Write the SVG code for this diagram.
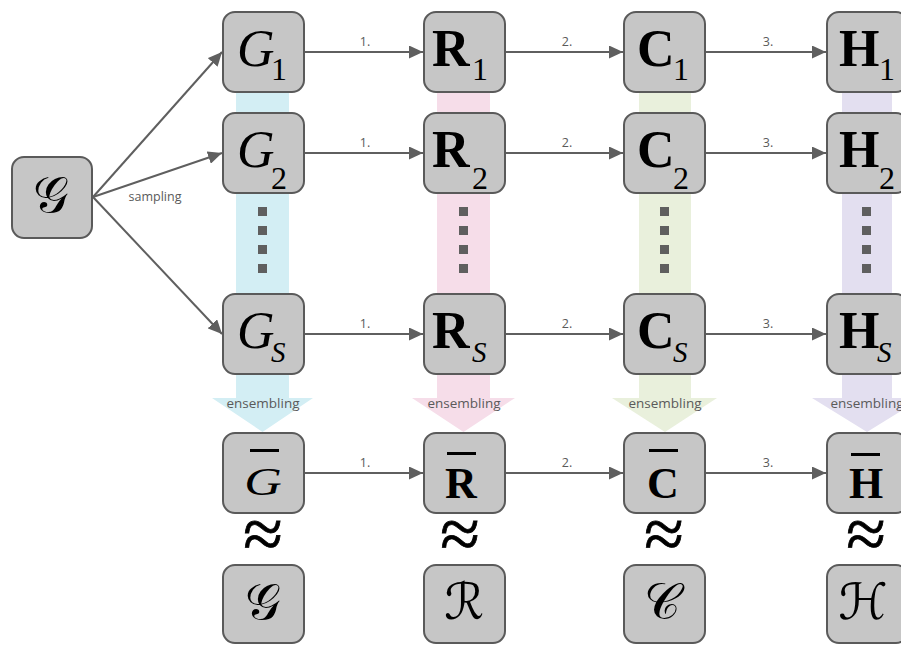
<svg xmlns="http://www.w3.org/2000/svg" width="901" height="645" viewBox="0 0 901 645">
  <defs>
    <marker id="arrow" markerUnits="userSpaceOnUse" markerWidth="15" markerHeight="13" refX="14" refY="6.5" orient="auto">
      <path d="M0,0 L14,6.5 L0,13 z" fill="#5f5f5f"/>
    </marker>
    <style>
      .box { fill: #c6c6c6; stroke: #5a5a5a; stroke-width: 2; }
      .edge { stroke: #5f5f5f; stroke-width: 2; fill: none; marker-end: url(#arrow); }
      .lbl { font-family: "Open Sans", "DejaVu Sans", sans-serif; font-size: 12.5px; fill: #5a5a5a; text-anchor: middle; }
      .ens { font-family: "Open Sans", "DejaVu Sans", sans-serif; font-size: 13.5px; fill: #5a5a5a; text-anchor: middle; }
      .it { font-family: "Liberation Serif", "Times New Roman", serif; font-style: italic; font-size: 52px; fill: #000; }
      .bd { font-family: "Liberation Serif", "Times New Roman", serif; font-weight: bold; font-size: 52px; fill: #000; }
      .sub { font-family: "Liberation Serif", "Times New Roman", serif; font-size: 32px; fill: #000; }
      .subit { font-family: "Liberation Serif", "Times New Roman", serif; font-style: italic; font-size: 29px; fill: #000; }
      .bar-it { font-family: "Liberation Serif", "Times New Roman", serif; font-style: italic; font-size: 40px; fill: #000; }
      .bar-bd { font-family: "Liberation Serif", "Times New Roman", serif; font-weight: bold; font-size: 44px; fill: #000; }
      .ovl { fill: #000; }
      .approx { font-family: "Liberation Serif", "Times New Roman", serif; font-size: 72px; fill: #000; text-anchor: middle; stroke: #000; stroke-width: 0.8; }
      .scr { font-family: "DejaVu Serif", "DejaVu Sans", serif; font-size: 50px; fill: #000; text-anchor: middle; }
      .dot { fill: #5f5f5f; }
    </style>
  </defs>
  <rect width="901" height="645" fill="#fff"/>

  <!-- coloured ensembling bands behind each column -->
  <g id="bands">
    <path d="M236,92 H289 V398 H313 L262.5,432 L212,398 H236 Z" fill="#d3eef4"/>
    <path d="M437,92 H490 V398 H515 L463.5,432 L412,398 H437 Z" fill="#f6dde9"/>
    <path d="M639,92 H691 V398 H717 L665,432 L612,398 H639 Z" fill="#e9f0dc"/>
    <path d="M842,92 H892 V398 H922 L867,432 L812,398 H842 Z" fill="#e3dff0"/>
    <g class="dot">
      <rect x="258" y="207" width="9" height="9"/><rect x="258" y="226" width="9" height="9"/>
      <rect x="258" y="245" width="9" height="9"/><rect x="258" y="264" width="9" height="9"/>
      <rect x="459" y="207" width="9" height="9"/><rect x="459" y="226" width="9" height="9"/>
      <rect x="459" y="245" width="9" height="9"/><rect x="459" y="264" width="9" height="9"/>
      <rect x="660" y="207" width="9" height="9"/><rect x="660" y="226" width="9" height="9"/>
      <rect x="660" y="245" width="9" height="9"/><rect x="660" y="264" width="9" height="9"/>
      <rect x="862" y="207" width="9" height="9"/><rect x="862" y="226" width="9" height="9"/>
      <rect x="862" y="245" width="9" height="9"/><rect x="862" y="264" width="9" height="9"/>
    </g>
    <text class="ens" x="263" y="408">ensembling</text>
    <text class="ens" x="464" y="408">ensembling</text>
    <text class="ens" x="665" y="408">ensembling</text>
    <text class="ens" x="867" y="408">ensembling</text>
  </g>

  <!-- connectors -->
  <g id="connectors">
    <line class="edge" x1="93" y1="197" x2="222" y2="52"/>
    <line class="edge" x1="93" y1="197" x2="222" y2="153"/>
    <line class="edge" x1="93" y1="197" x2="222" y2="334"/>
    <text class="lbl" x="155" y="201">sampling</text>

    <line class="edge" x1="305" y1="52" x2="423" y2="52"/>
    <line class="edge" x1="506" y1="52" x2="623" y2="52"/>
    <line class="edge" x1="706" y1="52" x2="826" y2="52"/>
    <text class="lbl" x="365" y="46">1.</text><text class="lbl" x="567" y="46">2.</text><text class="lbl" x="768" y="46">3.</text>

    <line class="edge" x1="305" y1="153" x2="423" y2="153"/>
    <line class="edge" x1="506" y1="153" x2="623" y2="153"/>
    <line class="edge" x1="706" y1="153" x2="826" y2="153"/>
    <text class="lbl" x="365" y="147">1.</text><text class="lbl" x="567" y="147">2.</text><text class="lbl" x="768" y="147">3.</text>

    <line class="edge" x1="305" y1="334" x2="423" y2="334"/>
    <line class="edge" x1="506" y1="334" x2="623" y2="334"/>
    <line class="edge" x1="706" y1="334" x2="826" y2="334"/>
    <text class="lbl" x="365" y="328">1.</text><text class="lbl" x="567" y="328">2.</text><text class="lbl" x="768" y="328">3.</text>

    <line class="edge" x1="305" y1="473" x2="423" y2="473"/>
    <line class="edge" x1="506" y1="473" x2="623" y2="473"/>
    <line class="edge" x1="706" y1="473" x2="826" y2="473"/>
    <text class="lbl" x="365" y="467">1.</text><text class="lbl" x="567" y="467">2.</text><text class="lbl" x="768" y="467">3.</text>
  </g>

  <!-- source graph -->
  <g id="node-graph">
    <rect class="box" x="12" y="157" width="80" height="81" rx="12"/>
    <text class="scr" x="51" y="212">𝒢</text>
  </g>

  <!-- row 1 -->
  <g id="node-G1"><rect class="box" x="223" y="12" width="81" height="80" rx="12"/>
    <text class="it" x="237" y="66">G</text><text class="sub" x="271" y="80">1</text></g>
  <g id="node-R1"><rect class="box" x="424" y="12" width="81" height="80" rx="12"/>
    <text class="bd" x="432" y="66">R</text><text class="sub" x="472" y="80">1</text></g>
  <g id="node-C1"><rect class="box" x="624" y="12" width="81" height="80" rx="12"/>
    <text class="bd" x="637" y="66">C</text><text class="sub" x="673" y="80">1</text></g>
  <g id="node-H1"><rect class="box" x="827" y="12" width="81" height="80" rx="12"/>
    <text class="bd" x="839" y="66">H</text><text class="sub" x="879" y="80">1</text></g>

  <!-- row 2 -->
  <g id="node-G2"><rect class="box" x="223" y="113" width="81" height="80" rx="12"/>
    <text class="it" x="237" y="167">G</text><text class="sub" x="271" y="189">2</text></g>
  <g id="node-R2"><rect class="box" x="424" y="113" width="81" height="80" rx="12"/>
    <text class="bd" x="432" y="167">R</text><text class="sub" x="472" y="189">2</text></g>
  <g id="node-C2"><rect class="box" x="624" y="113" width="81" height="80" rx="12"/>
    <text class="bd" x="637" y="167">C</text><text class="sub" x="673" y="189">2</text></g>
  <g id="node-H2"><rect class="box" x="827" y="113" width="81" height="80" rx="12"/>
    <text class="bd" x="839" y="167">H</text><text class="sub" x="879" y="189">2</text></g>

  <!-- row S -->
  <g id="node-GS"><rect class="box" x="223" y="294" width="81" height="80" rx="12"/>
    <text class="it" x="237" y="348">G</text><text class="subit" x="271" y="362">S</text></g>
  <g id="node-RS"><rect class="box" x="424" y="294" width="81" height="80" rx="12"/>
    <text class="bd" x="432" y="348">R</text><text class="subit" x="472" y="362">S</text></g>
  <g id="node-CS"><rect class="box" x="624" y="294" width="81" height="80" rx="12"/>
    <text class="bd" x="637" y="348">C</text><text class="subit" x="673" y="362">S</text></g>
  <g id="node-HS"><rect class="box" x="827" y="294" width="81" height="80" rx="12"/>
    <text class="bd" x="839" y="348">H</text><text class="subit" x="877" y="362">S</text></g>

  <!-- ensembled row -->
  <g id="node-Gbar"><rect class="box" x="223" y="433" width="81" height="80" rx="12"/>
    <text class="bar-it" x="263" y="495" text-anchor="middle" transform="translate(263,0) scale(1.3,1) translate(-263,0)">G</text>
    <rect class="ovl" x="250" y="449" width="29" height="3"/></g>
  <g id="node-Rbar"><rect class="box" x="424" y="433" width="81" height="80" rx="12"/>
    <text class="bar-bd" x="461" y="498" text-anchor="middle">R</text>
    <rect class="ovl" x="447" y="452" width="29" height="3"/></g>
  <g id="node-Cbar"><rect class="box" x="624" y="433" width="81" height="80" rx="12"/>
    <text class="bar-bd" x="663" y="498" text-anchor="middle">C</text>
    <rect class="ovl" x="649" y="449" width="29" height="3"/></g>
  <g id="node-Hbar"><rect class="box" x="827" y="433" width="81" height="80" rx="12"/>
    <text class="bar-bd" x="866" y="498" text-anchor="middle">H</text>
    <rect class="ovl" x="851" y="453" width="29" height="3"/></g>

  <!-- approximately-equal signs -->
  <g id="approx">
    <text class="approx" x="263" y="558">≈</text>
    <text class="approx" x="460" y="558">≈</text>
    <text class="approx" x="664" y="558">≈</text>
    <text class="approx" x="866" y="558">≈</text>
  </g>

  <!-- true quantities -->
  <g id="node-Gtrue"><rect class="box" x="223" y="565" width="81" height="78" rx="12"/>
    <text class="scr" x="263" y="619">𝒢</text></g>
  <g id="node-Rtrue"><rect class="box" x="424" y="565" width="81" height="78" rx="12"/>
    <text class="scr" x="464" y="619">ℛ</text></g>
  <g id="node-Ctrue"><rect class="box" x="624" y="565" width="81" height="78" rx="12"/>
    <text class="scr" x="662" y="619">𝒞</text></g>
  <g id="node-Htrue"><rect class="box" x="827" y="565" width="81" height="78" rx="12"/>
    <text class="scr" x="863" y="619">ℋ</text></g>
</svg>
